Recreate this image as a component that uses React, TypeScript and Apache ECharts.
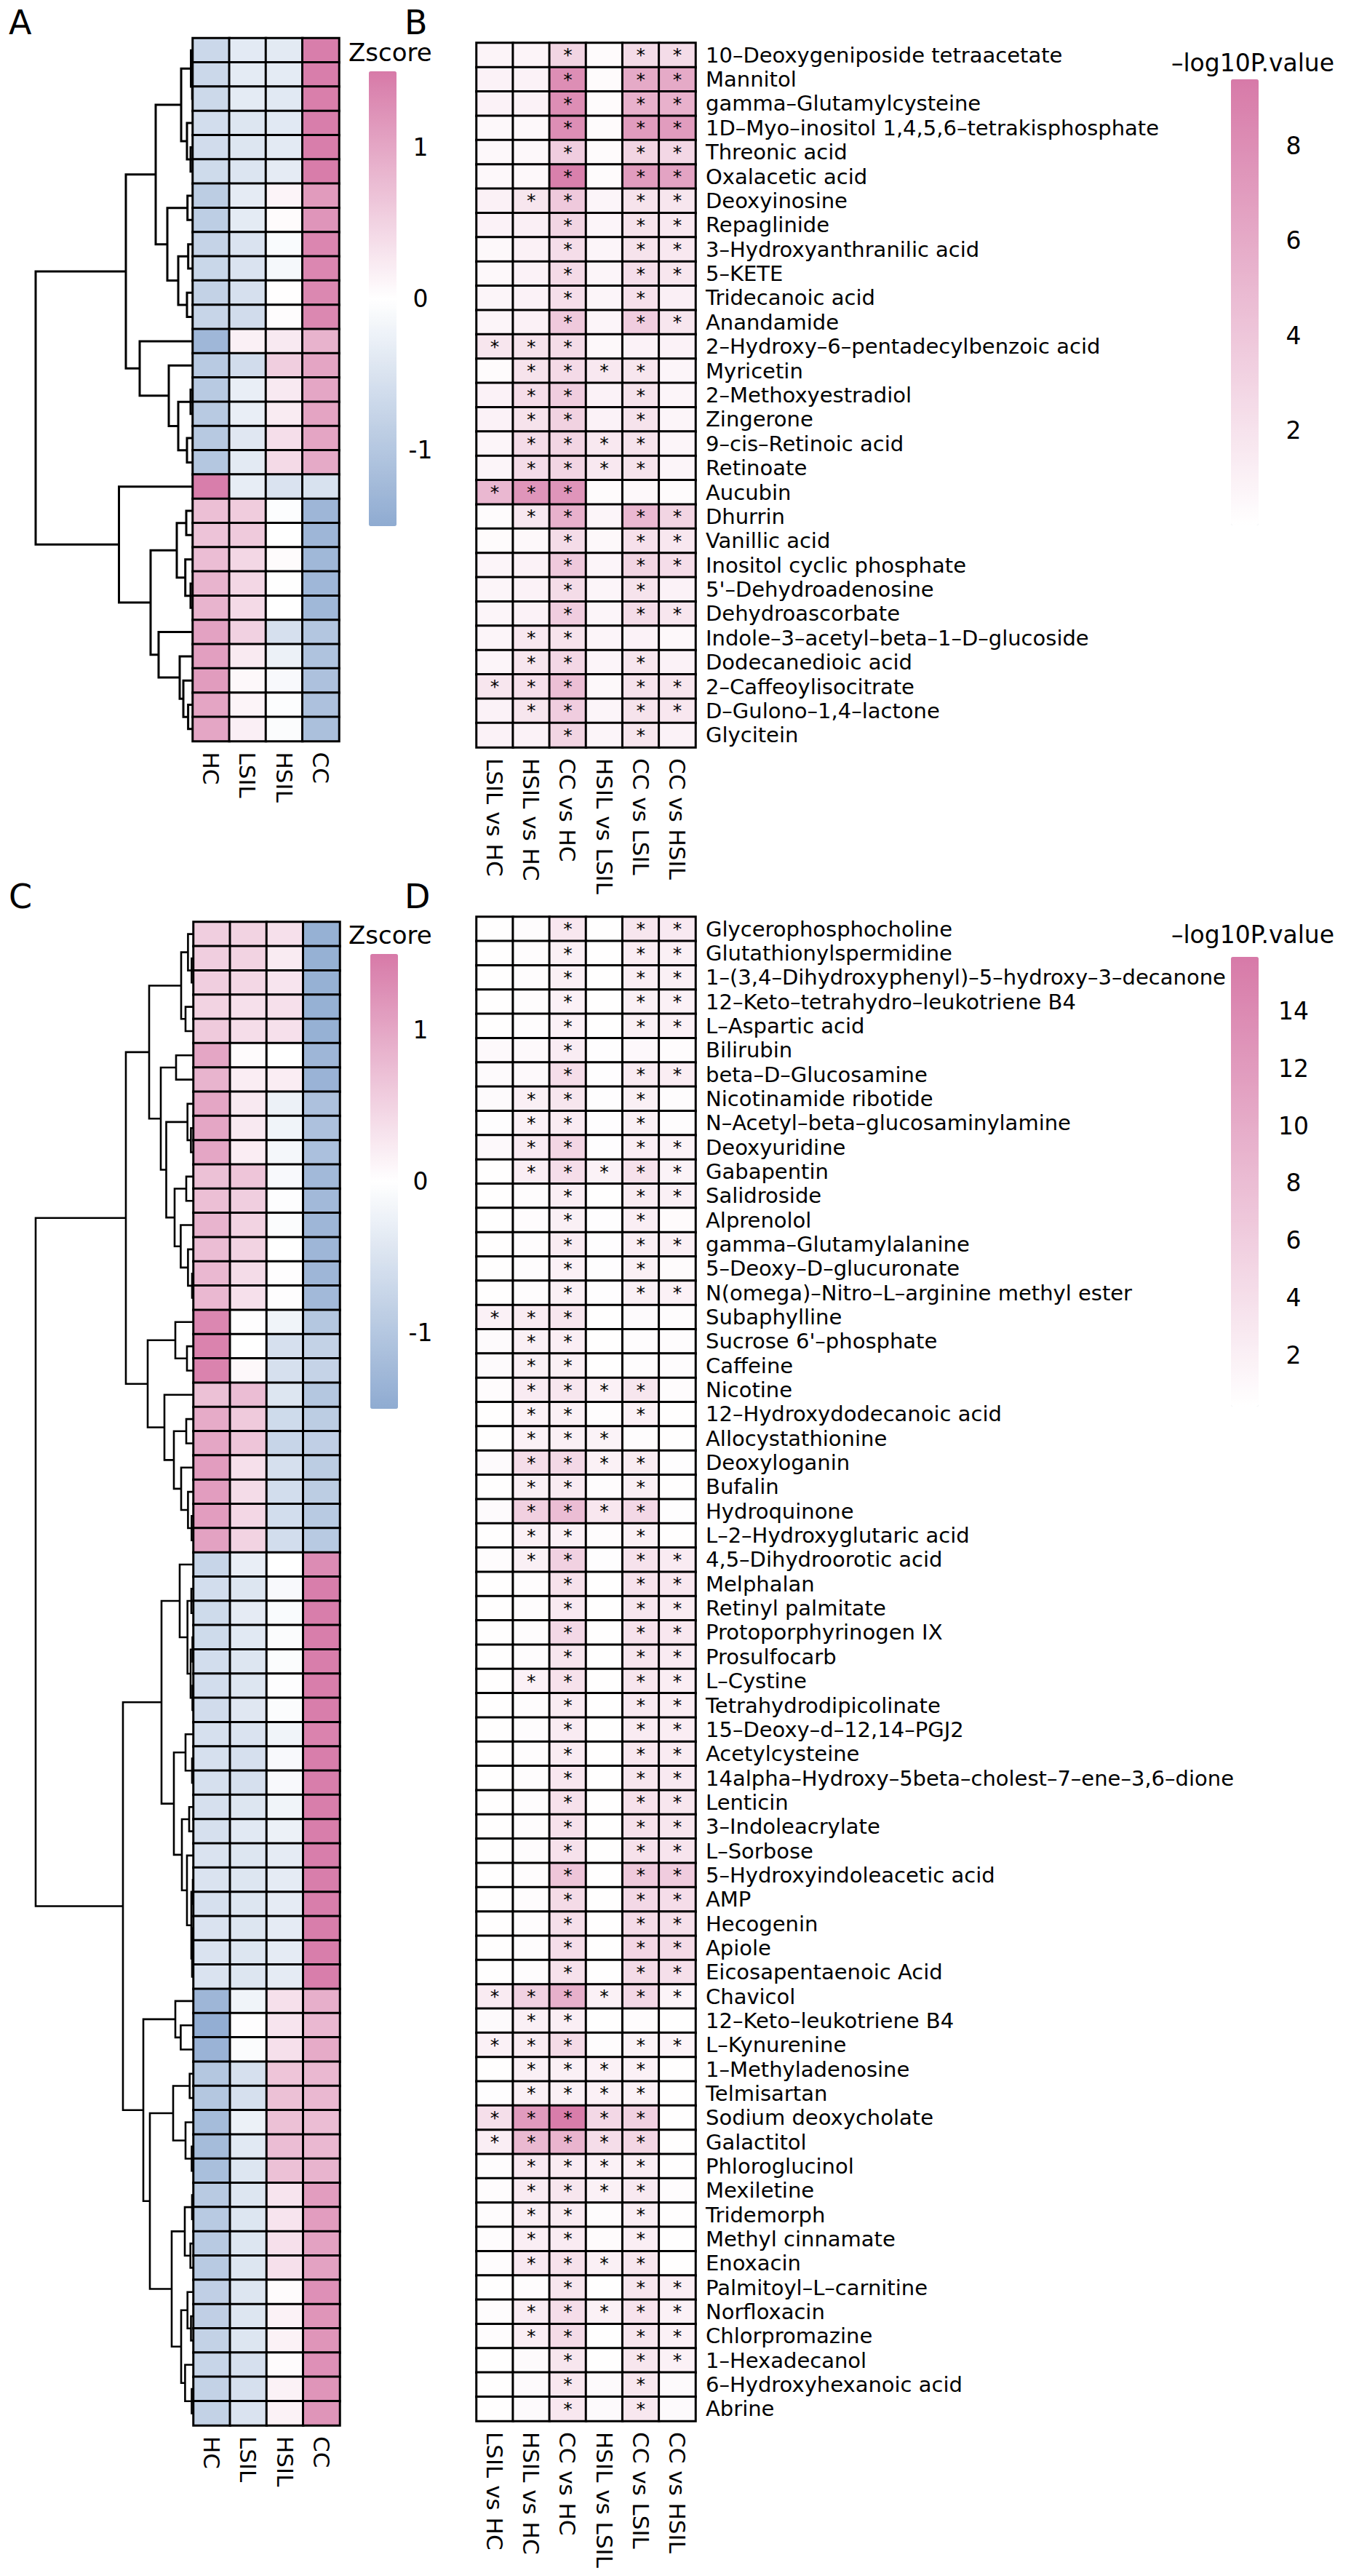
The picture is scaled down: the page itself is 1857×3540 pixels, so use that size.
import React, { useEffect, useRef } from "react";
import * as echarts from "echarts";

// ---------------- DATA ----------------
const groups = ["HC", "LSIL", "HSIL", "CC"];
const comparisons = ["LSIL vs HC", "HSIL vs HC", "CC vs HC", "HSIL vs LSIL", "CC vs LSIL", "CC vs HSIL"];

// Panel A: Zscore (rows x [HC, LSIL, HSIL, CC])
const zscoreA = [
  [-0.70, -0.37, -0.38, 1.45], [-0.70, -0.36, -0.36, 1.45], [-0.68, -0.36, -0.40, 1.44],
  [-0.60, -0.45, -0.40, 1.45], [-0.62, -0.45, -0.38, 1.45], [-0.65, -0.47, -0.35, 1.47],
  [-0.90, -0.35, 0.12, 1.13], [-0.88, -0.36, 0.05, 1.19], [-0.78, -0.50, -0.08, 1.36],
  [-0.72, -0.50, -0.13, 1.35], [-0.80, -0.55, 0.01, 1.34], [-0.75, -0.62, 0.03, 1.34],
  [-1.28, 0.17, 0.25, 0.86], [-0.95, -0.62, 0.55, 1.02], [-0.95, -0.30, 0.25, 1.00],
  [-0.95, -0.30, 0.22, 1.03], [-0.97, -0.42, 0.37, 1.02], [-1.00, -0.38, 0.42, 0.96],
  [1.45, -0.32, -0.50, -0.52], [0.72, 0.58, -0.04, -1.30], [0.68, 0.60, 0.00, -1.30],
  [0.75, 0.45, 0.05, -1.27], [0.85, 0.45, -0.02, -1.28], [0.85, 0.42, 0.00, -1.27],
  [1.05, 0.52, -0.55, -1.02], [1.08, 0.24, -0.25, -1.07], [1.12, 0.08, -0.10, -1.10],
  [1.02, 0.12, -0.04, -1.10], [1.00, 0.18, -0.05, -1.13],
];

// Panel B
const namesB = [
  "10–Deoxygeniposide tetraacetate", "Mannitol", "gamma–Glutamylcysteine",
  "1D–Myo–inositol 1,4,5,6–tetrakisphosphate", "Threonic acid", "Oxalacetic acid",
  "Deoxyinosine", "Repaglinide", "3–Hydroxyanthranilic acid", "5–KETE", "Tridecanoic acid",
  "Anandamide", "2–Hydroxy–6–pentadecylbenzoic acid", "Myricetin", "2–Methoxyestradiol",
  "Zingerone", "9–cis–Retinoic acid", "Retinoate", "Aucubin", "Dhurrin", "Vanillic acid",
  "Inositol cyclic phosphate", "5'–Dehydroadenosine", "Dehydroascorbate",
  "Indole–3–acetyl–beta–1–D–glucoside", "Dodecanedioic acid", "2–Caffeoylisocitrate",
  "D–Gulono–1,4–lactone", "Glycitein",
];
const logPB = [
  [0.8, 0.8, 3.0, 0.3, 2.5, 2.5], [0.9, 0.9, 8.0, 0.3, 6.0, 6.0], [0.9, 0.9, 8.0, 0.3, 5.5, 5.5],
  [0.5, 0.5, 8.0, 0.3, 7.0, 7.0], [0.5, 0.5, 3.5, 0.3, 3.0, 2.8], [0.5, 0.5, 9.0, 0.3, 7.0, 6.5],
  [1.0, 1.8, 3.8, 0.7, 2.0, 1.8], [0.9, 1.1, 3.0, 0.7, 2.0, 1.6], [0.5, 1.0, 2.4, 0.7, 2.0, 1.6],
  [0.5, 0.9, 2.6, 0.7, 2.3, 1.8], [0.7, 0.9, 2.3, 0.7, 2.2, 1.1], [0.7, 1.0, 3.8, 0.7, 3.5, 1.8],
  [1.8, 2.0, 2.5, 0.5, 0.9, 0.9], [0.3, 2.0, 2.6, 1.6, 1.8, 0.7], [0.9, 2.4, 3.5, 0.9, 2.0, 0.7],
  [0.9, 2.0, 3.2, 0.9, 2.0, 0.7], [0.7, 2.5, 3.0, 1.6, 2.0, 0.7], [0.7, 2.5, 3.0, 1.6, 2.0, 0.7],
  [5.0, 7.5, 7.5, 0.3, 0.5, 0.3], [0.3, 1.6, 5.5, 0.7, 5.0, 3.0], [0.3, 0.5, 2.5, 0.5, 2.2, 1.7],
  [0.7, 0.9, 3.8, 0.7, 3.0, 2.4], [0.7, 0.9, 2.5, 0.7, 2.0, 0.9], [0.7, 0.9, 3.5, 0.7, 2.5, 1.8],
  [0.7, 1.6, 2.0, 0.7, 0.9, 0.5], [0.7, 1.8, 2.8, 0.7, 1.8, 0.9], [1.8, 2.2, 4.5, 0.5, 2.0, 1.8],
  [0.9, 1.8, 3.5, 0.7, 2.0, 1.7], [0.9, 0.9, 3.0, 0.7, 1.8, 0.9],
];

// Panel C: Zscore
const zscoreC = [
  [0.55, 0.50, 0.35, -1.40], [0.55, 0.50, 0.22, -1.40], [0.55, 0.45, 0.30, -1.40],
  [0.50, 0.35, 0.35, -1.40], [0.60, 0.38, 0.35, -1.40], [1.00, 0.05, 0.00, -1.30],
  [0.85, 0.20, 0.20, -1.35], [1.00, 0.25, -0.25, -1.10], [1.00, 0.25, -0.20, -1.10],
  [1.00, 0.20, -0.15, -1.12], [0.70, 0.65, -0.10, -1.25], [0.72, 0.55, -0.03, -1.25],
  [0.85, 0.50, -0.05, -1.30], [0.75, 0.50, 0.00, -1.30], [0.80, 0.40, 0.02, -1.30],
  [0.80, 0.35, 0.02, -1.25], [1.35, 0.02, -0.20, -1.00], [1.40, 0.00, -0.55, -0.80],
  [1.40, 0.08, -0.55, -0.78], [0.70, 0.75, -0.45, -1.00], [0.95, 0.60, -0.65, -0.90],
  [1.00, 0.65, -0.75, -0.85], [1.10, 0.35, -0.55, -0.90], [1.10, 0.40, -0.60, -0.90],
  [1.10, 0.45, -0.60, -0.95], [1.05, 0.50, -0.60, -0.95], [-0.75, -0.30, 0.00, 1.30],
  [-0.60, -0.45, -0.10, 1.45], [-0.65, -0.35, -0.08, 1.45], [-0.65, -0.40, -0.05, 1.45],
  [-0.60, -0.45, -0.05, 1.45], [-0.60, -0.45, -0.03, 1.45], [-0.62, -0.42, -0.05, 1.45],
  [-0.55, -0.50, -0.20, 1.40], [-0.55, -0.55, -0.10, 1.45], [-0.55, -0.55, -0.10, 1.45],
  [-0.55, -0.45, -0.20, 1.45], [-0.55, -0.40, -0.25, 1.45], [-0.50, -0.45, -0.35, 1.45],
  [-0.50, -0.45, -0.35, 1.45], [-0.55, -0.45, -0.35, 1.45], [-0.50, -0.45, -0.35, 1.45],
  [-0.50, -0.45, -0.35, 1.45], [-0.50, -0.45, -0.35, 1.45], [-1.30, -0.20, 0.35, 0.90],
  [-1.45, 0.02, 0.30, 0.80], [-1.35, -0.05, 0.35, 0.95], [-1.00, -0.55, 0.65, 0.80],
  [-1.00, -0.55, 0.70, 0.80], [-1.20, -0.25, 0.70, 0.75], [-1.20, -0.40, 0.75, 0.80],
  [-1.15, -0.45, 0.70, 0.85], [-0.95, -0.45, 0.30, 1.10], [-0.95, -0.45, 0.30, 1.10],
  [-0.95, -0.45, 0.35, 1.05], [-0.95, -0.45, 0.35, 1.05], [-0.85, -0.45, 0.05, 1.25],
  [-0.85, -0.45, 0.15, 1.20], [-0.80, -0.45, 0.15, 1.20], [-0.75, -0.55, 0.05, 1.25],
  [-0.80, -0.55, 0.15, 1.20], [-0.80, -0.50, 0.15, 1.20],
];

// Panel D
const namesD = [
  "Glycerophosphocholine", "Glutathionylspermidine", "1–(3,4–Dihydroxyphenyl)–5–hydroxy–3–decanone",
  "12–Keto–tetrahydro–leukotriene B4", "L–Aspartic acid", "Bilirubin", "beta–D–Glucosamine",
  "Nicotinamide ribotide", "N–Acetyl–beta–glucosaminylamine", "Deoxyuridine", "Gabapentin",
  "Salidroside", "Alprenolol", "gamma–Glutamylalanine", "5–Deoxy–D–glucuronate",
  "N(omega)–Nitro–L–arginine methyl ester", "Subaphylline", "Sucrose 6'–phosphate", "Caffeine",
  "Nicotine", "12–Hydroxydodecanoic acid", "Allocystathionine", "Deoxyloganin", "Bufalin",
  "Hydroquinone", "L–2–Hydroxyglutaric acid", "4,5–Dihydroorotic acid", "Melphalan",
  "Retinyl palmitate", "Protoporphyrinogen IX", "Prosulfocarb", "L–Cystine",
  "Tetrahydrodipicolinate", "15–Deoxy–d–12,14–PGJ2", "Acetylcysteine",
  "14alpha–Hydroxy–5beta–cholest–7–ene–3,6–dione", "Lenticin", "3–Indoleacrylate", "L–Sorbose",
  "5–Hydroxyindoleacetic acid", "AMP", "Hecogenin", "Apiole", "Eicosapentaenoic Acid", "Chavicol",
  "12–Keto–leukotriene B4", "L–Kynurenine", "1–Methyladenosine", "Telmisartan",
  "Sodium deoxycholate", "Galactitol", "Phloroglucinol", "Mexiletine", "Tridemorph",
  "Methyl cinnamate", "Enoxacin", "Palmitoyl–L–carnitine", "Norfloxacin", "Chlorpromazine",
  "1–Hexadecanol", "6–Hydroxyhexanoic acid", "Abrine",
];
const logPD = [
  [0.3, 0.6, 3.0, 0.3, 3.2, 2.8], [0.3, 0.6, 2.0, 0.3, 2.3, 2.0], [0.3, 0.6, 2.0, 0.3, 2.2, 2.0],
  [0.3, 0.6, 1.8, 0.3, 2.0, 1.8], [0.3, 0.6, 1.8, 0.3, 2.0, 1.8], [0.9, 0.9, 2.4, 0.4, 1.0, 0.6],
  [0.8, 0.9, 4.2, 0.4, 2.6, 2.3], [0.8, 2.0, 3.2, 0.4, 2.0, 0.6], [0.4, 1.9, 2.6, 0.4, 2.0, 0.6],
  [0.9, 2.6, 5.0, 0.4, 2.2, 1.6], [0.3, 2.2, 4.2, 1.7, 3.8, 1.6], [0.3, 0.5, 2.2, 0.3, 2.5, 2.0],
  [0.3, 0.6, 2.0, 0.4, 2.2, 0.7], [0.3, 0.6, 2.6, 0.4, 2.2, 2.0], [0.3, 0.6, 1.8, 0.4, 2.0, 0.7],
  [0.3, 0.6, 2.0, 0.4, 2.0, 1.8], [1.8, 2.5, 3.2, 0.3, 0.8, 0.6], [0.8, 2.0, 2.2, 0.3, 0.6, 0.5],
  [0.8, 2.0, 2.0, 0.3, 0.6, 0.5], [0.5, 2.6, 3.2, 1.8, 3.2, 0.5], [0.3, 1.8, 2.0, 0.6, 1.8, 0.3],
  [0.3, 1.8, 2.0, 1.6, 0.6, 0.3], [0.8, 4.2, 4.8, 1.8, 2.5, 0.4], [0.3, 2.0, 2.6, 0.5, 2.0, 0.3],
  [0.8, 5.8, 8.0, 3.0, 4.8, 0.4], [0.3, 1.8, 1.8, 0.6, 1.8, 0.3], [0.6, 2.0, 5.6, 0.4, 3.6, 2.6],
  [0.3, 0.5, 3.8, 0.3, 3.6, 3.0], [0.3, 0.5, 2.8, 0.3, 3.2, 2.5], [0.3, 0.5, 4.8, 0.3, 3.6, 3.0],
  [0.3, 0.5, 3.2, 0.3, 3.2, 2.6], [0.3, 1.8, 3.8, 0.3, 3.2, 2.3], [0.3, 0.5, 2.6, 0.3, 2.8, 2.3],
  [0.3, 0.5, 2.6, 0.3, 2.6, 2.3], [0.3, 0.5, 2.6, 0.3, 3.0, 2.6], [0.3, 0.5, 3.0, 0.3, 3.2, 2.8],
  [0.3, 0.5, 3.8, 0.3, 3.8, 3.2], [0.3, 0.5, 3.8, 0.3, 3.8, 3.2], [0.3, 0.5, 3.8, 0.3, 3.8, 3.4],
  [0.3, 0.5, 7.0, 0.3, 6.5, 6.2], [0.3, 0.5, 4.5, 0.3, 4.8, 4.2], [0.3, 0.5, 4.0, 0.3, 4.5, 4.0],
  [0.3, 0.5, 4.2, 0.3, 5.0, 4.5], [0.3, 0.5, 3.8, 0.3, 4.5, 4.0], [2.6, 5.5, 9.5, 1.8, 4.8, 1.5],
  [0.8, 2.0, 2.2, 0.3, 0.5, 0.3], [1.8, 2.5, 4.5, 0.5, 1.6, 1.5], [0.3, 2.0, 2.0, 1.8, 1.8, 0.3],
  [0.4, 2.0, 2.0, 1.8, 1.8, 0.3], [4.0, 12.0, 15.5, 4.8, 5.6, 0.3], [2.2, 8.5, 9.0, 4.2, 5.0, 0.3],
  [0.6, 2.8, 2.6, 1.8, 2.2, 0.3], [0.6, 2.6, 3.2, 1.8, 2.8, 0.5], [0.5, 2.2, 2.6, 0.6, 2.2, 0.3],
  [0.5, 2.2, 2.6, 0.7, 2.2, 0.3], [0.6, 2.8, 3.8, 2.0, 3.2, 0.3], [0.3, 0.6, 3.2, 0.3, 3.2, 2.2],
  [0.6, 2.4, 4.2, 1.8, 3.5, 1.8], [0.6, 2.2, 4.5, 0.3, 3.2, 1.8], [0.3, 0.8, 3.2, 0.3, 3.2, 1.8],
  [0.3, 0.8, 3.0, 0.8, 3.0, 0.8], [0.3, 0.8, 3.0, 0.8, 3.0, 0.8],
];

// Dendrograms: leaf = row index, node = [merge height, left, right]
type Tree = number | [number, Tree, Tree];
const treeA: Tree = [216,
  [92,
    [51,
      [16, [2.5, 0, [0.8, 1, 2]], [8, 3, [3, 4, 5]]],
      [35, [7.3, 6, 7], [20, [6.3, 8, 9], [8, 10, 11]]]],
    [73, 12, [33, 13, [20, [3, 14, 15], [8, 16, 17]]]]],
  [101.5, 18,
    [58,
      [22, [9, 19, 20], [10.3, 21, [3, 22, 23]]],
      [47, 24, [18, 25, [13, 26, [6.4, 27, 28]]]]]],
];
const treeC: Tree = [217,
  [93,
    [61,
      [17, [7.6, 0, [2.6, 1, 2]], [11, 3, 4]],
      [45, [24, 5, 6],
        [37.5, [8.3, 7, [3.6, 8, 9]],
          [26, [10, 10, 11], [17.6, 12, [7.6, 13, [2, 14, 15]]]]]]],
    [63, [25, 16, [9, 17, 18]],
      [40, 19, [27, [10, 20, 21], [17, 22, [7.6, 23, [2.6, 24, 25]]]]]]],
  [97,
    [44,
      [19, 26, [8.3, [3, 27, 28], [4, [1.5, 29, 30], [1.5, 31, 32]]]],
      [27, [11, 33, [2, 34, 35]], [16, [6, 36, 37], [9, 38, [3, [1, 39, 40], [2, [1, 41, 42], 43]]]]]],
    [69,
      [25, 44, [17.6, 45, 46]],
      [60,
        [28, [5.3, 47, 48], [11, 49, [2.5, 50, 51]]],
        [30, [12, [2, 52, 53], [4.3, 54, 55]],
          [17, [8.3, 56, [3.5, 57, 58]], [11.6, 59, [2.5, 60, 61]]]]]]],
];

const zTicks = [1, 0, -1];
const pTicksB = [2, 4, 6, 8];
const pTicksD = [2, 4, 6, 8, 10, 12, 14];
const zRange = [-1.5, 1.5];
const pRangeB = [0, 9.4];
const pRangeD = [0.2, 15.9];
const SIG = 1.3;

// ---------------- STYLE / LAYOUT ----------------
const FONT = "DejaVu Sans";
const PINK = "#D77AA8";
const BLUE = "#8FABD1";
const W = 1857;
const H = 3540;

const heatA = { left: 265, top: 52.5, width: 201, height: 966 };
const heatB = { left: 655, top: 59, width: 301, height: 968 };
const heatC = { left: 266, top: 1267, width: 201, height: 2066 };
const heatD = { left: 655, top: 1260, width: 301, height: 2067 };

const legA = { x: 507, y: 98, w: 38, h: 625, title: "Zscore", tx: 479, ty: 72, align: "left", lx: 578 };
const legC = { x: 509, y: 1311, w: 38, h: 625, title: "Zscore", tx: 479, ty: 1285, align: "left", lx: 578 };
const legB = { x: 1692, y: 109, w: 38, h: 613, title: "–log10P.value", tx: 1722, ty: 86, align: "center", lx: 1778 };
const legD = { x: 1692, y: 1315, w: 38, h: 618, title: "–log10P.value", tx: 1722, ty: 1284, align: "center", lx: 1778 };

function heatData(m: number[][]) {
  const out: number[][] = [];
  m.forEach((row, i) => row.forEach((v, j) => out.push([j, i, v])));
  return out;
}

function dendroSegments(tree: Tree) {
  const segs: number[][][] = [];
  const walk = (n: Tree): { y: number; h: number } => {
    if (typeof n === "number") return { y: n + 0.5, h: 0 };
    const [h, a, b] = n;
    const l = walk(a);
    const r = walk(b);
    segs.push([[l.h, l.y], [h, l.y], [h, r.y], [r.h, r.y]]);
    return { y: (l.y + r.y) / 2, h };
  };
  walk(tree);
  return segs;
}

const hiddenCat = (data: string[], gridIndex: number) => ({
  type: "category", gridIndex, data, inverse: true,
  axisLine: { show: false }, axisTick: { show: false }, axisLabel: { show: false }, splitLine: { show: false },
});

const colAxis = (data: string[], gridIndex: number) => ({
  type: "category", gridIndex, data, position: "bottom",
  axisLine: { show: false }, axisTick: { show: false }, splitLine: { show: false },
  axisLabel: { rotate: -90, margin: 15, fontSize: 31, fontFamily: FONT, color: "#000", interval: 0 },
});

const rowAxis = (data: string[], gridIndex: number) => ({
  type: "category", gridIndex, data, inverse: true, position: "right",
  axisLine: { show: false }, axisTick: { show: false }, splitLine: { show: false },
  axisLabel: { margin: 14, fontSize: 29, fontFamily: FONT, color: "#000", interval: 0 },
});

const valAxis = (gridIndex: number, max: number, inverse: boolean) => ({
  type: "value", gridIndex, min: 0, max, inverse, show: false,
});

function legendGraphics(leg: any, range: number[], ticks: number[]) {
  const els: any[] = [];
  els.push({
    type: "text", x: leg.tx, y: leg.ty,
    style: { text: leg.title, fontSize: leg.title === "Zscore" ? 34 : 33, fontFamily: FONT, fill: "#000", align: leg.align, verticalAlign: "middle" },
  });
  ticks.forEach((t) => {
    const y = leg.y + ((range[1] - t) / (range[1] - range[0])) * leg.h;
    els.push({
      type: "text", x: leg.lx, y,
      style: { text: String(t), fontSize: 33, fontFamily: FONT, fill: "#000", align: "center", verticalAlign: "middle" },
    });
  });
  return els;
}

function vm(seriesIndex: number, range: number[], colors: string[], leg: any) {
  return {
    type: "continuous", seriesIndex, min: range[0], max: range[1], dimension: 2,
    inRange: { color: colors }, calculable: false, hoverLink: false, realtime: false,
    orient: "vertical", left: leg.x, top: leg.y, itemWidth: leg.w, itemHeight: leg.h,
    padding: 0, text: null, show: true,
  };
}

const starLabel = {
  show: true, fontSize: 25, fontFamily: FONT, color: "#000",
  formatter: (p: any) => (p.value[2] > SIG ? "*" : ""),
};

export default function App() {
  const ref = useRef<HTMLDivElement>(null);
  useEffect(() => {
    document.body.style.margin = "0";
    if (!ref.current) return;
    const chart = echarts.init(ref.current, null, { renderer: "svg" });
    const rowsA = zscoreA.map((_, i) => `a${i + 1}`);
    const rowsC = zscoreC.map((_, i) => `c${i + 1}`);
    const cellStyle = { borderColor: "#000", borderWidth: 3 };
    const dLine = (w: number) => ({ color: "#000", width: w, opacity: 1, curveness: 0 });

    const graphic: any[] = [
      ...[["A", 12, 31], ["B", 556, 31], ["C", 12, 1232], ["D", 556, 1232]].map(([t, x, y]) => ({
        type: "text", x, y,
        style: { text: t, fontSize: 46, fontFamily: FONT, fill: "#000", align: "left", verticalAlign: "middle" },
      })),
      ...legendGraphics(legA, zRange, zTicks),
      ...legendGraphics(legC, zRange, zTicks),
      ...legendGraphics(legB, pRangeB, pTicksB),
      ...legendGraphics(legD, pRangeD, pTicksD),
    ];

    const option: any = {
      animation: false,
      backgroundColor: "#fff",
      textStyle: { fontFamily: FONT },
      grid: [
        heatA,
        { left: heatA.left - (treeA as any)[0], top: heatA.top, width: (treeA as any)[0], height: heatA.height },
        heatB,
        heatC,
        { left: heatC.left - (treeC as any)[0], top: heatC.top, width: (treeC as any)[0], height: heatC.height },
        heatD,
      ],
      xAxis: [
        colAxis(groups, 0),
        valAxis(1, (treeA as any)[0], true),
        colAxis(comparisons, 2),
        colAxis(groups, 3),
        valAxis(4, (treeC as any)[0], true),
        colAxis(comparisons, 5),
      ],
      yAxis: [
        hiddenCat(rowsA, 0),
        valAxis(1, zscoreA.length, true),
        rowAxis(namesB, 2),
        hiddenCat(rowsC, 3),
        valAxis(4, zscoreC.length, true),
        rowAxis(namesD, 5),
      ],
      visualMap: [
        vm(0, zRange, [BLUE, "#FFFFFF", PINK], legA),
        vm(2, pRangeB, ["#FFFFFF", PINK], legB),
        vm(3, zRange, [BLUE, "#FFFFFF", PINK], legC),
        vm(5, pRangeD, ["#FFFFFF", PINK], legD),
      ],
      series: [
        { type: "heatmap", xAxisIndex: 0, yAxisIndex: 0, data: heatData(zscoreA), itemStyle: cellStyle, emphasis: { disabled: true }, label: { show: false } },
        { type: "lines", coordinateSystem: "cartesian2d", xAxisIndex: 1, yAxisIndex: 1, polyline: true, silent: true,
          data: dendroSegments(treeA).map((c) => ({ coords: c })), lineStyle: dLine(3) },
        { type: "heatmap", xAxisIndex: 2, yAxisIndex: 2, data: heatData(logPB), itemStyle: cellStyle, emphasis: { disabled: true }, label: starLabel },
        { type: "heatmap", xAxisIndex: 3, yAxisIndex: 3, data: heatData(zscoreC), itemStyle: cellStyle, emphasis: { disabled: true }, label: { show: false } },
        { type: "lines", coordinateSystem: "cartesian2d", xAxisIndex: 4, yAxisIndex: 4, polyline: true, silent: true,
          data: dendroSegments(treeC).map((c) => ({ coords: c })), lineStyle: dLine(2.6) },
        { type: "heatmap", xAxisIndex: 5, yAxisIndex: 5, data: heatData(logPD), itemStyle: cellStyle, emphasis: { disabled: true }, label: starLabel },
      ],
      graphic,
    };
    chart.setOption(option);
    return () => chart.dispose();
  }, []);
  return <div ref={ref} style={{ width: W, height: H }} />;
}
